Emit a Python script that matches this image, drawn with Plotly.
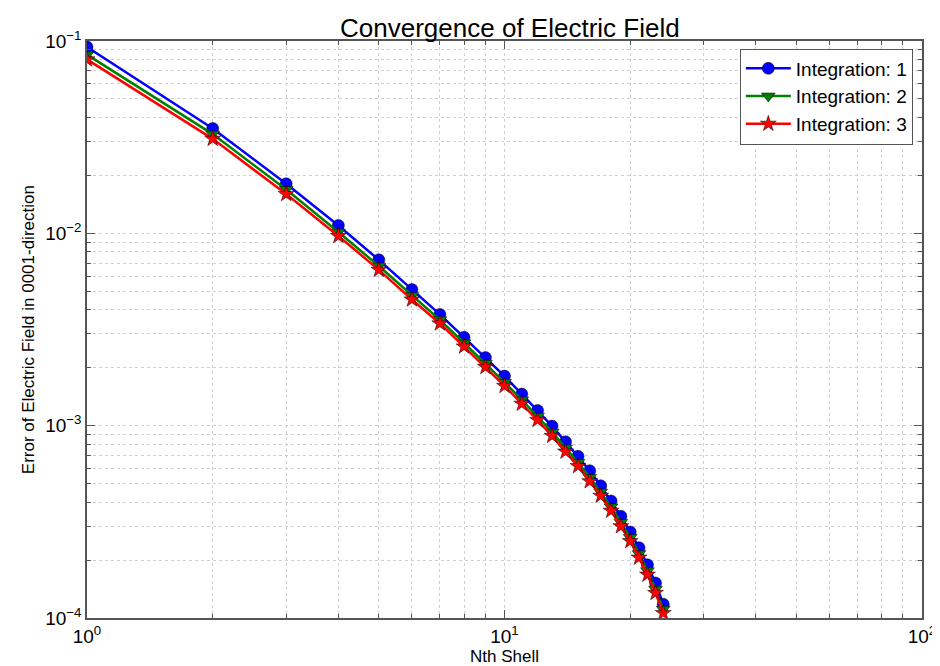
import plotly.graph_objects as go

shells = list(range(1, 25))
integration_1 = [0.0931, 0.0351, 0.0181, 0.01099, 0.00728, 0.00510, 0.00379, 0.00288, 0.00226, 0.00181,
                 0.00146, 0.00120, 0.000995, 0.000824, 0.000693, 0.000583, 0.000487, 0.000406, 0.000338,
                 0.000280, 0.000232, 0.000189, 0.000152, 0.000118]
integration_2 = [0.0849, 0.0328, 0.0169, 0.01016, 0.00676, 0.00474, 0.00355, 0.00269, 0.00211, 0.00168,
                 0.00136, 0.00112, 0.000925, 0.000766, 0.000644, 0.000538, 0.000452, 0.000378, 0.000314,
                 0.000262, 0.000216, 0.000176, 0.000141, 0.000111]
integration_3 = [0.0802, 0.0310, 0.0160, 0.00969, 0.00646, 0.00453, 0.00340, 0.00258, 0.00202, 0.00161,
                 0.00130, 0.00107, 0.000885, 0.000733, 0.000616, 0.000514, 0.000432, 0.000361, 0.000300,
                 0.000251, 0.000206, 0.000168, 0.000135, 0.000106]

x_tickvals = [1, 10, 100]
x_ticktext = ["10<sup>0</sup>", "10<sup>1</sup>", "10<sup>2</sup>"]
y_tickvals = [1e-4, 1e-3, 1e-2, 1e-1]
y_ticktext = ["10<sup>\u22124</sup>", "10<sup>\u22123</sup>", "10<sup>\u22122</sup>", "10<sup>\u22121</sup>"]
x_minor = [m * 10 ** e for e in range(0, 2) for m in range(2, 10)]
y_minor = [m * 10.0 ** e for e in range(-4, -1) for m in range(2, 10)]

FONT = "Liberation Sans, Arial, sans-serif"

fig = go.Figure()
series = [
    ("Integration: 1", integration_1, "#0000ff", "circle", 12),
    ("Integration: 2", integration_2, "#007f00", "triangle-down", 12),
    ("Integration: 3", integration_3, "#ff0000", "star", 12),
]
for name, vals, col, sym, sz in series:
    fig.add_trace(go.Scatter(
        x=shells, y=vals, name=name, mode="lines+markers",
        line=dict(color=col, width=2.5),
        marker=dict(symbol=sym, size=sz, color=col, line=dict(color="black", width=0.5)),
    ))

axis_common = dict(
    type="log", showline=True, linecolor="#555555", linewidth=1.5, mirror="ticks",
    ticks="inside", ticklen=8, tickcolor="#555555", tickwidth=1,
    showgrid=True, gridcolor="#d0d0d0", griddash="dot", gridwidth=1,
    zeroline=False, tickfont=dict(family=FONT, size=19, color="black"),
    tickmode="array",
)

fig.update_xaxes(
    **axis_common, range=[0, 2], tickvals=x_tickvals, ticktext=x_ticktext,
    minor=dict(tickmode="array", tickvals=x_minor, ticks="inside", ticklen=4,
               tickcolor="#555555", showgrid=True, gridcolor="#d0d0d0", griddash="dot"),
    title=dict(text="Nth Shell", font=dict(family=FONT, size=17, color="black"), standoff=4),
)
fig.update_yaxes(
    **axis_common, range=[-4, -1], tickvals=y_tickvals, ticktext=y_ticktext,
    minor=dict(tickmode="array", tickvals=y_minor, ticks="inside", ticklen=4,
               tickcolor="#555555", showgrid=True, gridcolor="#d0d0d0", griddash="dot"),
)

fig.add_annotation(
    text="Error of Electric Field in 0001-direction", textangle=-90,
    xref="paper", yref="paper", x=(20 - 79) / 845, y=0.5,
    xanchor="center", yanchor="middle", showarrow=False,
    font=dict(family=FONT, size=17, color="black"),
)

fig.update_layout(
    width=940, height=666,
    margin=dict(l=79, r=16, t=33, b=48),
    paper_bgcolor="white", plot_bgcolor="white",
    title=dict(text="Convergence of Electric Field", x=0.5339, xanchor="center",
               y=1 - 20 / 666, yanchor="middle", font=dict(family=FONT, size=26, color="black")),
    legend=dict(x=0.989, y=0.987, xanchor="right", yanchor="top",
                bordercolor="#555555", borderwidth=1, bgcolor="white",
                font=dict(family=FONT, size=19, color="black"),
                itemwidth=45, tracegroupgap=2),
    showlegend=True,
)

fig.write_html("out.html")
